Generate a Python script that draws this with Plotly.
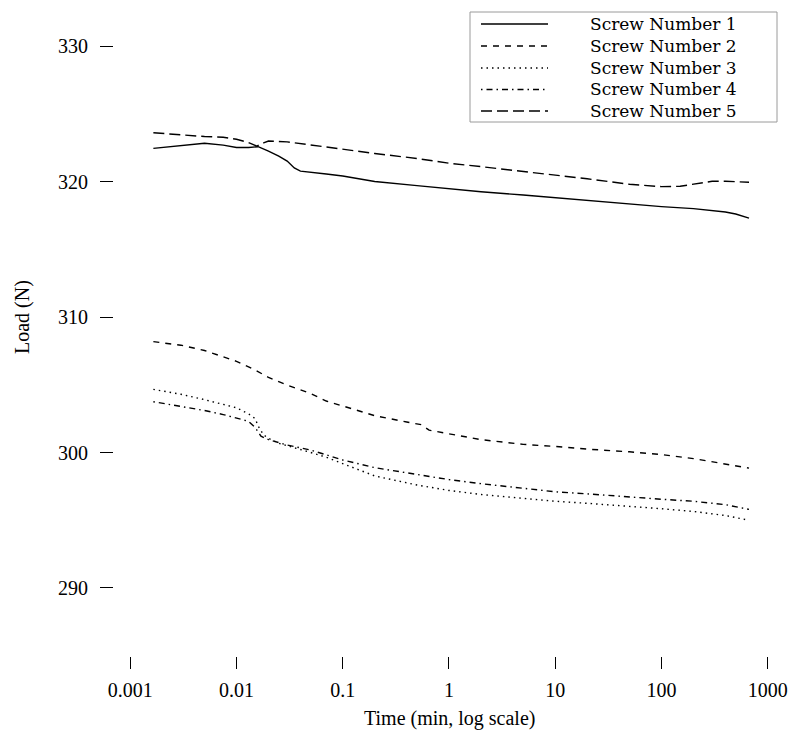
import plotly.graph_objects as go

# ---- data (time in minutes, load in N) ----
t1 = [0.00165, 0.003, 0.005, 0.0075, 0.01, 0.013, 0.016, 0.02, 0.025, 0.03, 0.035, 0.04, 0.05, 0.07,
      0.1, 0.2, 0.5, 1, 2, 5, 10, 20, 50, 100, 200, 400, 500, 667]
v1 = [322.45, 322.66, 322.82, 322.69, 322.51, 322.51, 322.57, 322.25, 321.88, 321.51, 321.0, 320.77, 320.70, 320.55,
      320.41, 320.0, 319.7, 319.45, 319.25, 319.0, 318.8, 318.6, 318.35, 318.15, 318.0, 317.75, 317.6, 317.3]

t2 = [0.00165, 0.003, 0.005, 0.0075, 0.01, 0.015, 0.02, 0.03, 0.05, 0.07, 0.1, 0.2, 0.4, 0.55, 0.65, 0.8,
      1, 2, 5, 10, 20, 50, 100, 200, 400, 667]
v2 = [308.18, 307.92, 307.53, 307.07, 306.73, 306.09, 305.54, 304.97, 304.35, 303.8, 303.45, 302.72, 302.25, 302.05, 301.65, 301.5,
      301.38, 300.95, 300.6, 300.45, 300.25, 300.05, 299.85, 299.55, 299.15, 298.85]

t3 = [0.00165, 0.003, 0.005, 0.0075, 0.01, 0.013, 0.015, 0.016, 0.018, 0.02, 0.025, 0.03, 0.04, 0.05, 0.07,
      0.1, 0.2, 0.5, 1, 2, 5, 10, 20, 50, 100, 200, 400, 667]
v3 = [304.66, 304.3, 303.9, 303.55, 303.3, 302.85, 302.5, 301.95, 301.3, 301.05, 300.68, 300.5, 300.25, 300.0, 299.65,
      299.2, 298.27, 297.6, 297.2, 296.9, 296.6, 296.4, 296.25, 296.05, 295.85, 295.65, 295.35, 295.0]

t4 = [0.00165, 0.003, 0.005, 0.0075, 0.01, 0.013, 0.015, 0.017, 0.02, 0.025, 0.03, 0.05,
      0.1, 0.2, 0.5, 1, 2, 5, 10, 20, 50, 100, 200, 400, 667]
v4 = [303.75, 303.4, 303.1, 302.8, 302.55, 302.3, 301.85, 301.2, 300.95, 300.72, 300.55, 300.18,
      299.45, 298.88, 298.35, 298.0, 297.7, 297.35, 297.1, 296.95, 296.7, 296.55, 296.4, 296.15, 295.8]

t5 = [0.00165, 0.003, 0.005, 0.0075, 0.01, 0.013, 0.0155, 0.018, 0.02, 0.03, 0.05, 0.1, 0.2, 0.5,
      1, 2, 5, 10, 20, 50, 100, 150, 200, 300, 400, 667]
v5 = [323.60, 323.43, 323.32, 323.27, 323.12, 322.88, 322.62, 322.85, 322.99, 322.93, 322.69, 322.4, 322.07, 321.7,
      321.35, 321.1, 320.75, 320.5, 320.2, 319.8, 319.62, 319.65, 319.8, 320.02, 320.02, 319.95]

names = ["Screw Number 1", "Screw Number 2", "Screw Number 3", "Screw Number 4", "Screw Number 5"]
x_ticks = [0.001, 0.01, 0.1, 1, 10, 100, 1000]
x_ticktext = ["0.001", "0.01", "0.1", "1", "10", "100", "1000"]
y_ticks = [290, 300, 310, 320, 330]

dashes = ["solid", "6px,6px", "1.5px,4px", "1.5px,4px,6px,4px", "11px,5px"]
series = [(t1, v1), (t2, v2), (t3, v3), (t4, v4), (t5, v5)]

FONT = "Liberation Serif, Times New Roman, serif"
LEG_FONT = "DejaVu Serif, Liberation Serif, serif"

# plot area in pixels
L, R, T, B = 114, 790, 10, 656
PW, PH = R - L, B - T


def px(x):
    return (x - L) / PW


def py(y):
    return (B - y) / PH


fig = go.Figure()
for (t, v), name, dash in zip(series, names, dashes):
    fig.add_trace(go.Scatter(x=t, y=v, mode="lines", name=name, showlegend=False,
                             line=dict(color="black", width=1.4, dash=dash)))

# legend box drawn as in the reference (R-style legend)
shapes = [dict(type="rect", xref="paper", yref="paper", x0=px(470), x1=px(777), y0=py(12), y1=py(122),
               line=dict(color="#9a9a9a", width=1), fillcolor="white", layer="above")]
annotations = []
row_y = [24, 46, 68, 89.5, 111]
for name, dash, yy in zip(names, dashes, row_y):
    shapes.append(dict(type="line", xref="paper", yref="paper", x0=px(481), x1=px(548), y0=py(yy), y1=py(yy),
                       line=dict(color="black", width=1.4, dash=dash), layer="above"))
    annotations.append(dict(text=name, xref="paper", yref="paper", x=px(588), y=py(yy),
                            xanchor="left", yanchor="middle", showarrow=False,
                            font=dict(family=LEG_FONT, size=17, color="black")))

annotations += [
    dict(text="Load (N)", xref="paper", yref="paper", x=px(22), y=py(317),
         xanchor="center", yanchor="middle", textangle=-90, showarrow=False,
         font=dict(family=FONT, size=20)),
    dict(text="Time (min, log scale)", xref="paper", yref="paper", x=px(449),
         y=py(718), xanchor="center", yanchor="middle", showarrow=False,
         font=dict(family=FONT, size=20)),
]

fig.update_layout(
    width=796, height=741,
    margin=dict(l=L, r=796 - R, t=T, b=741 - B, autoexpand=False),
    paper_bgcolor="white", plot_bgcolor="white",
    font=dict(family=FONT, size=20, color="black"),
    showlegend=False,
    xaxis=dict(type="log", range=[-3.153, 3.210], tickvals=x_ticks, ticktext=x_ticktext,
               ticks="outside", ticklen=12, tickwidth=1.3, tickcolor="black",
               showline=False, showgrid=False, zeroline=False, ticklabelstandoff=4,
               tickfont=dict(family=FONT, size=20)),
    yaxis=dict(range=[284.98, 332.66], tickvals=y_ticks,
               ticks="outside", ticklen=13, tickwidth=1.3, tickcolor="black",
               showline=False, showgrid=False, zeroline=False, ticklabelstandoff=8,
               tickfont=dict(family=FONT, size=20)),
    shapes=shapes,
    annotations=annotations,
)

fig.write_html("out.html")
